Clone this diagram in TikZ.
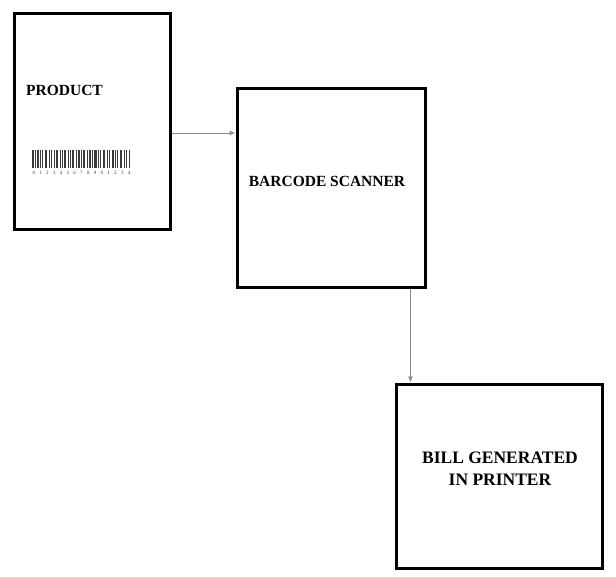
\documentclass[tikz,border=0pt]{standalone}
\usepackage{fontspec}
\setmainfont{Liberation Serif}
\usepackage{tikz}
\usetikzlibrary{arrows.meta,calc,positioning}
\definecolor{FlowGrey}{HTML}{8A8A8A}
\definecolor{BarInk}{HTML}{3A3A3A}
\tikzset{
  >={Latex[length=6pt,width=5pt]},
  flow/.style={->,line width=0.9pt,draw=FlowGrey},
  blockbox/.style={draw=black,line width=3pt,inner sep=0pt},
  label/.style={font=\bfseries\fontsize{15.5}{18}\selectfont,inner sep=0pt,align=center},
  biglabel/.style={font=\bfseries\fontsize{17.5}{22}\selectfont,inner sep=0pt,align=center}
}
\newcommand{\dgap}{\hspace{4.3pt}}
\begin{document}
\begin{tikzpicture}[x=1pt,y=-1pt]
  \useasboundingbox (0,0) rectangle (616,576);
  \node[blockbox,minimum width=156pt,minimum height=216pt] (product) at (92,121) {};
  \node[blockbox,minimum width=188pt,minimum height=199pt] (scanner) at (331,187.5) {};
  \node[blockbox,minimum width=206pt,minimum height=184pt] (bill) at (499,476) {};
  \node[label,anchor=west] (productlbl) at (26,90) {PRODUCT};
  \node[label] (scannerlbl) at (327,181) {BARCODE SCANNER};
  \node[biglabel] (billlbl) at (500,469) {BILL GENERATED\\IN PRINTER};
  % barcode on the product
  \foreach \x/\w in {32/1.6,34.5/0.8,36.5/2.2,40/1,42/1.4,45/2.4,48.5/0.9,50.5/1.6,
      53.5/1,55.5/2.6,59.5/1.2,62/0.8,64/2,67.5/1.4,70/0.9,72/2.4,76/1,78/1.6,
      81/0.8,83/2.2,86.5/1.2,89/1.8,92/0.9,94/2.6,98/1,100/1.4,103/2.2,106.5/0.8,
      108.5/1.6,111.5/2.4,115/1,117/1.4,120/2,123.5/0.9,125.5/1.6,128.5/1.5}
    \fill[BarInk] (\x,150) rectangle ++(\w,18);
  \node[font=\fontsize{5}{6}\selectfont,text=BarInk,inner sep=0pt] (digits) at (81.5,173)
    {0\dgap1\dgap2\dgap3\dgap4\dgap5\dgap6\dgap7\dgap8\dgap9\dgap0\dgap1\dgap2\dgap3\dgap4};
  \draw[flow] ([yshift=-12pt]product.east) -- ([yshift=-12pt]product.east -| scanner.west);
  \coordinate (drop) at ([xshift=16pt]bill.north west);
  \draw[flow] (scanner.south -| drop) -- (drop);
\end{tikzpicture}
\end{document}
